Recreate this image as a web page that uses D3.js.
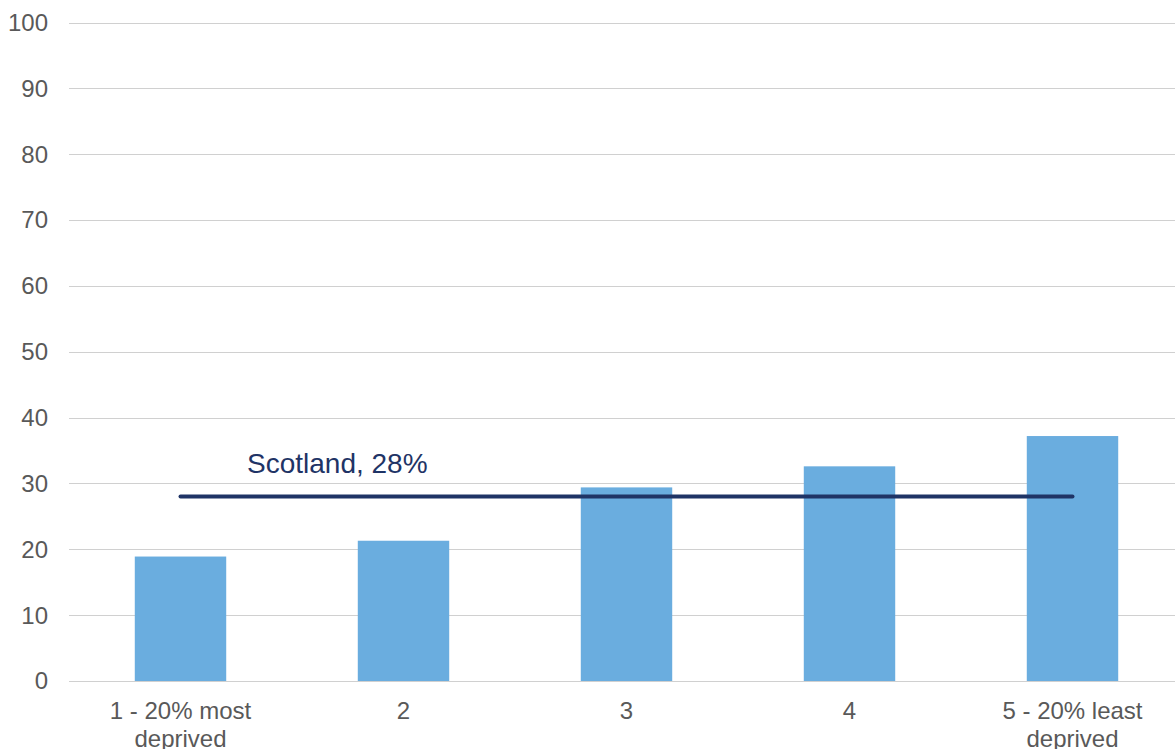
<!DOCTYPE html>
<html>
<head>
<meta charset="utf-8">
<script src="https://cdn.jsdelivr.net/npm/d3@7"></script>
<style>
  body { margin: 0; background: #fff; }
  text { font-family: "Liberation Sans", Arial, sans-serif; }
</style>
</head>
<body>
<div id="chart"></div>
<script>
// data
var categories = ["1 - 20% most|deprived", "2", "3", "4", "5 - 20% least|deprived"];
var values = [18.9, 21.3, 29.4, 32.6, 37.2];
var scotlandValue = 28;
var scotlandLabel = "Scotland, 28%";
var yTicks = [0, 10, 20, 30, 40, 50, 60, 70, 80, 90, 100];

var width = 1175;
var height = 749;

var svg = d3.select("#chart")
  .append("svg")
  .attr("width", width)
  .attr("height", height);

// band range runs a bit past the right edge, like the original crop
var x = d3.scaleBand()
  .domain(categories)
  .range([69, 1184])
  .paddingInner(0.59)
  .paddingOuter(0.295);

var y = d3.scaleLinear()
  .domain([0, 100])
  .range([681, 22.5]);

// gridlines
svg.append("g")
  .selectAll("line")
  .data(yTicks)
  .enter()
  .append("line")
  .attr("x1", 69)
  .attr("x2", width)
  .attr("y1", function(d) { return Math.round(y(d)) + 0.5; })
  .attr("y2", function(d) { return Math.round(y(d)) + 0.5; })
  .style("stroke", "#d0d0d0")
  .style("stroke-width", 1.2);

// y tick labels
svg.append("g")
  .selectAll("text")
  .data(yTicks)
  .enter()
  .append("text")
  .attr("x", 48)
  .attr("y", function(d) { return y(d); })
  .attr("dy", "0.35em")
  .attr("text-anchor", "end")
  .style("font-size", "24px")
  .style("fill", "#595959")
  .text(function(d) { return d; });

// bars
svg.append("g")
  .selectAll("rect")
  .data(values)
  .enter()
  .append("rect")
  .attr("x", function(d, i) { return x(categories[i]); })
  .attr("width", x.bandwidth())
  .attr("y", function(d) { return y(d); })
  .attr("height", function(d) { return y(0) - y(d); })
  .style("fill", "#6aaddf");

// x labels (two lines, second line is cut by the bottom edge as in the original)
var xl = svg.append("g")
  .selectAll("text")
  .data(categories)
  .enter()
  .append("text")
  .attr("x", function(d) { return x(d) + x.bandwidth() / 2; })
  .attr("y", 719)
  .attr("text-anchor", "middle")
  .style("font-size", "24px")
  .style("fill", "#595959");

xl.each(function(d) {
  var parts = d.split("|");
  var t = d3.select(this);
  parts.forEach(function(p, k) {
    t.append("tspan")
      .attr("x", t.attr("x"))
      .attr("dy", k === 0 ? 0 : 28)
      .text(p);
  });
});

// Scotland average line
var first = categories[0], last = categories[categories.length - 1];
svg.append("line")
  .attr("x1", x(first) + x.bandwidth() / 2)
  .attr("x2", x(last) + x.bandwidth() / 2)
  .attr("y1", y(scotlandValue))
  .attr("y2", y(scotlandValue))
  .style("stroke", "#1f3466")
  .style("stroke-width", 4)
  .style("stroke-linecap", "round");

svg.append("text")
  .attr("x", 247)
  .attr("y", 473)
  .style("font-size", "28px")
  .style("fill", "#1f3466")
  .text(scotlandLabel);
</script>
</body>
</html>
